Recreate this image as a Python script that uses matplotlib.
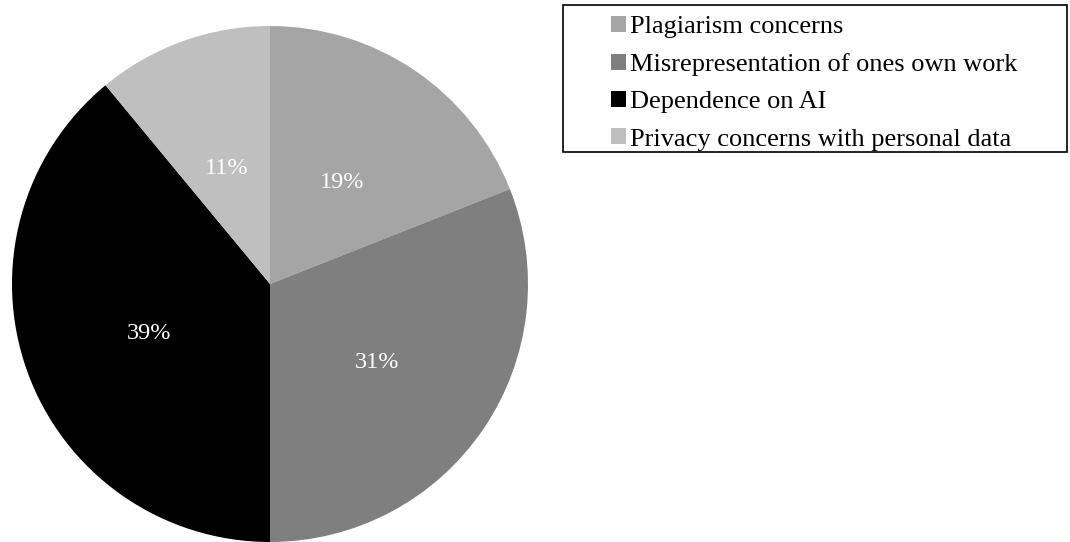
import matplotlib.pyplot as plt
from matplotlib.patches import Rectangle

# Data
labels = ['Plagiarism concerns', 'Misrepresentation of ones own work',
          'Dependence on AI', 'Privacy concerns with personal data']
shares = [19, 31, 39, 11]
colors = ['#A5A5A5', '#7F7F7F', '#000000', '#BFBFBF']

plt.rcParams['font.family'] = 'Liberation Serif'

W, H = 1070, 542
fig = plt.figure(figsize=(W / 100, H / 100), dpi=100)
ax = fig.add_axes([12 / W, 0, 516 / W, 516 / H])

wedges, texts, autotexts = ax.pie(
    shares, colors=colors, startangle=90, counterclock=False,
    autopct='%1.0f%%', pctdistance=0.5, radius=1,
    textprops={'color': 'white', 'fontsize': 17.5})
for t in autotexts:
    t.set_va('center_baseline')
    x, y = t.get_position()
    t.set_position((x, y - 0.012))
ax.set_xlim(-1, 1)
ax.set_ylim(-1, 1)
ax.set_aspect('equal')

# legend entries without frame, box drawn separately (Excel-style wide box)
leg = fig.legend(wedges, labels, loc='upper left',
                 bbox_to_anchor=(611 / W, 1 - 16 / H), borderaxespad=0,
                 fontsize=19, frameon=False,
                 handlelength=0.57, handleheight=0.57, handletextpad=0.15,
                 labelspacing=0.56, borderpad=0)
fig.patches.append(Rectangle((563 / W, 1 - 152 / H), 504 / W, 147 / H,
                             transform=fig.transFigure, fill=False,
                             edgecolor='black', linewidth=1.2))

fig.savefig('out.png', dpi=100)
